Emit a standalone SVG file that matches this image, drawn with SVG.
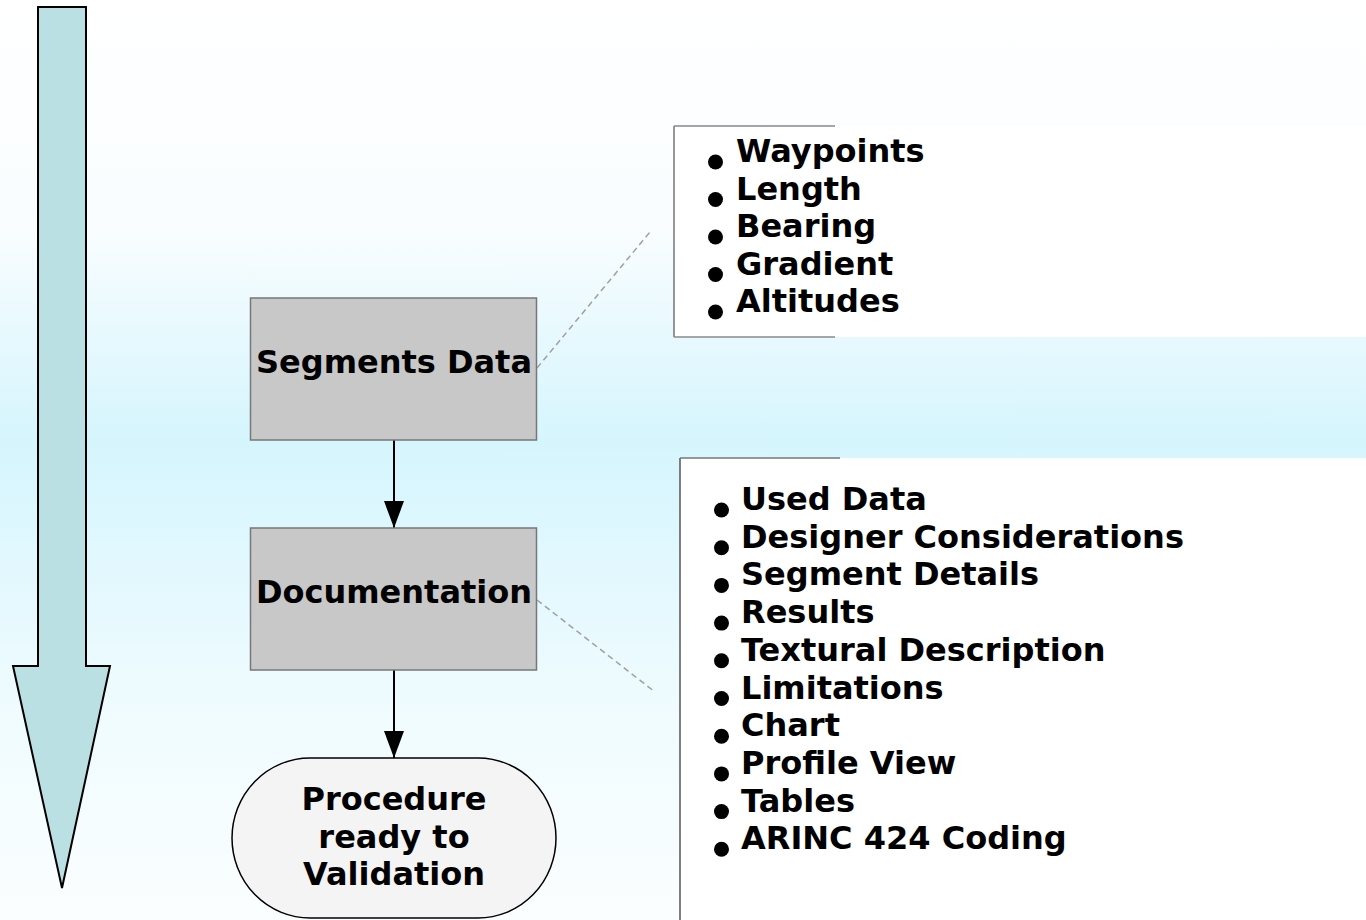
<svg xmlns="http://www.w3.org/2000/svg" width="1366" height="920" viewBox="0 0 1366 920">
<defs>
<linearGradient id="bg" x1="0" y1="0" x2="0" y2="1">
<stop offset="0" stop-color="#ffffff"/>
<stop offset="0.25" stop-color="#f9fdff"/>
<stop offset="0.48" stop-color="#d5f5fd"/>
<stop offset="0.52" stop-color="#d9f6fe"/>
<stop offset="0.75" stop-color="#eefbfe"/>
<stop offset="1" stop-color="#fbfeff"/>
</linearGradient>
<marker id="ah" markerWidth="27" markerHeight="20" refX="27" refY="10" orient="auto" markerUnits="userSpaceOnUse" viewBox="0 0 27 20">
<path d="M0,0 L27,10 L0,20 Z" fill="#000"/>
</marker>
</defs>
<style>
.box{fill:#c8c8c8;stroke:#777;stroke-width:1.5}
.lbl{font-family:"DejaVu Sans",Verdana,sans-serif;font-weight:bold;font-size:32px;fill:#000}
.bul{fill:#000}
.dash{stroke:#a0a0a0;stroke-width:1.5;stroke-dasharray:6,4;fill:none}
.edge{stroke:#000;stroke-width:2;fill:none}
</style>
<rect x="0" y="0" width="1366" height="920" fill="url(#bg)"/>

<g id="bigarrow">
<path d="M38,7 L86,7 L86,666 L110,666 L62,888 L13,666 L38,666 Z" fill="#bbe0e3" stroke="#000" stroke-width="2"/>
</g>

<g id="panel1">
<rect x="674" y="126" width="692" height="211" fill="#ffffff"/>
<line x1="674" y1="126" x2="674" y2="337" stroke="#333" stroke-width="1"/>
<line x1="674" y1="126" x2="835" y2="126" stroke="#888" stroke-width="1.5"/>
<line x1="674" y1="337" x2="835" y2="337" stroke="#888" stroke-width="1.5"/>
<g class="lbl">
<text x="736" y="162">Waypoints</text>
<text x="736" y="199.5">Length</text>
<text x="736" y="237">Bearing</text>
<text x="736" y="274.5">Gradient</text>
<text x="736" y="312">Altitudes</text>
</g>
<g class="bul">
<circle cx="715.5" cy="162" r="7.5"/>
<circle cx="715.5" cy="199.5" r="7.5"/>
<circle cx="715.5" cy="237" r="7.5"/>
<circle cx="715.5" cy="274.5" r="7.5"/>
<circle cx="715.5" cy="312" r="7.5"/>
</g>
</g>

<g id="panel2">
<rect x="680" y="458" width="686" height="462" fill="#ffffff"/>
<line x1="680" y1="458" x2="680" y2="920" stroke="#555" stroke-width="1.5"/>
<line x1="680" y1="458" x2="840" y2="458" stroke="#777" stroke-width="1.5"/>
<g class="lbl">
<text x="741" y="510">Used Data</text>
<text x="741" y="547.7">Designer Considerations</text>
<text x="741" y="585.4">Segment Details</text>
<text x="741" y="623.1">Results</text>
<text x="741" y="660.8">Textural Description</text>
<text x="741" y="698.5">Limitations</text>
<text x="741" y="736.2">Chart</text>
<text x="741" y="773.9">Profile View</text>
<text x="741" y="811.6">Tables</text>
<text x="741" y="849.3">ARINC 424 Coding</text>
</g>
<g class="bul">
<circle cx="721.5" cy="510" r="7.5"/>
<circle cx="721.5" cy="547.7" r="7.5"/>
<circle cx="721.5" cy="585.4" r="7.5"/>
<circle cx="721.5" cy="623.1" r="7.5"/>
<circle cx="721.5" cy="660.8" r="7.5"/>
<circle cx="721.5" cy="698.5" r="7.5"/>
<circle cx="721.5" cy="736.2" r="7.5"/>
<circle cx="721.5" cy="773.9" r="7.5"/>
<circle cx="721.5" cy="811.6" r="7.5"/>
<circle cx="721.5" cy="849.3" r="7.5"/>
</g>
</g>

<g id="connectors">
<line class="dash" x1="537" y1="368" x2="650" y2="232"/>
<line class="dash" x1="537" y1="600" x2="655" y2="692"/>
<line class="edge" x1="394" y1="440" x2="394" y2="528" marker-end="url(#ah)"/>
<line class="edge" x1="394" y1="670" x2="394" y2="758" marker-end="url(#ah)"/>
</g>

<g id="segments">
<rect class="box" x="250.5" y="298" width="286" height="142"/>
<text class="lbl" x="394" y="373" text-anchor="middle">Segments Data</text>
</g>

<g id="documentation">
<rect class="box" x="250.5" y="528" width="286" height="142"/>
<text class="lbl" x="394" y="603" text-anchor="middle">Documentation</text>
</g>

<g id="terminal">
<rect x="232" y="758" width="324" height="160" rx="78" ry="80" fill="#f4f4f4" stroke="#000" stroke-width="1.5"/>
<g class="lbl" text-anchor="middle">
<text x="394" y="810">Procedure</text>
<text x="394" y="848">ready to</text>
<text x="394" y="885">Validation</text>
</g>
</g>
</svg>
